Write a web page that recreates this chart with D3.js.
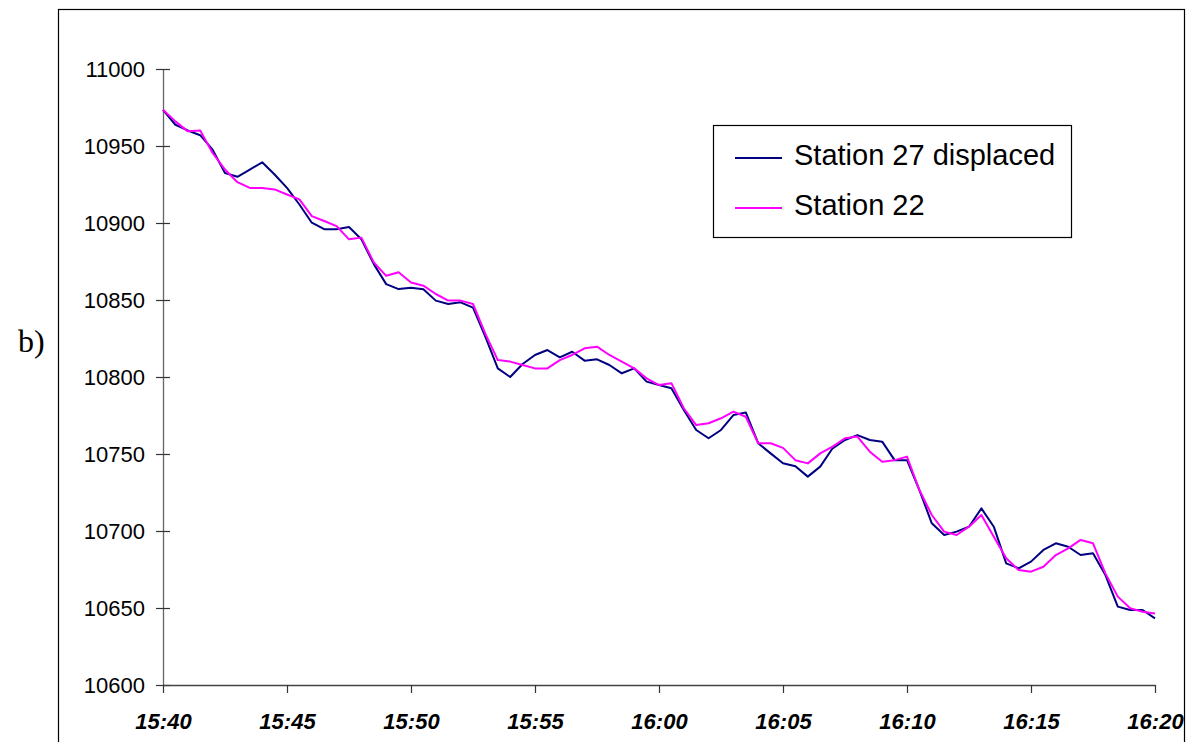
<!DOCTYPE html>
<html>
<head>
<meta charset="utf-8">
<script src="https://cdn.jsdelivr.net/npm/d3@7"></script>
<style>
  html, body { margin: 0; padding: 0; background: #fff; }
  svg { display: block; }
</style>
</head>
<body>
<svg id="chart" width="1195" height="742"></svg>
<script>
// minutes after 15:40, step 0.5
const minutes = d3.range(0, 40.001, 0.5);
const xTickMinutes = [0, 5, 10, 15, 20, 25, 30, 35, 40];
const xTickLabels = ["15:40", "15:45", "15:50", "15:55", "16:00", "16:05", "16:10", "16:15", "16:20"];
const yTicks = [10600, 10650, 10700, 10750, 10800, 10850, 10900, 10950, 11000];
const seriesNames = ["Station 27 displaced", "Station 22"];

const station27 = [
  10973.5, 10963.8, 10960.1, 10957, 10947.6, 10932.5, 10930, 10934.7, 10939.4, 10931.5,
  10922.8, 10912, 10900.2, 10896, 10896, 10897.4, 10889.4, 10873.3, 10860.3, 10857.1,
  10858, 10857, 10849.6, 10847.4, 10848.5, 10845, 10826, 10805.6, 10800, 10808.4,
  10814.3, 10817.5, 10812.8, 10816.4, 10810.6, 10811.5, 10807.8, 10802.4, 10805.6, 10797,
  10794.8, 10792.7, 10778.6, 10765.6, 10760.2, 10765.6, 10775.3, 10777, 10757, 10750.4,
  10744, 10742, 10735.3, 10741.8, 10753.7, 10759.1, 10762.3, 10759.1, 10758, 10746,
  10746, 10726.6, 10705, 10697.4, 10699.6, 10702.8, 10714.7, 10702.8, 10679, 10675.8,
  10680.1, 10687.7, 10692, 10689.8, 10684.4, 10685.5, 10671.4, 10650.9, 10648.7, 10648.7,
  10643.3
];
const station22 = [
  10973.5, 10966, 10959.5, 10960, 10945.5, 10934.7, 10926.5, 10922.8, 10922.8, 10921.8,
  10918.5, 10915.3, 10904.5, 10901.3, 10898, 10889.4, 10890.5, 10874.4, 10865.7, 10868,
  10861.4, 10859.3, 10853.9, 10849.6, 10849.6, 10847.4, 10828, 10811, 10810, 10807.8,
  10805.6, 10805.6, 10811, 10814.3, 10818.6, 10819.7, 10814.3, 10810, 10805.6, 10799.1,
  10794.8, 10796, 10779.7, 10768.8, 10770, 10773.2, 10777.5, 10774.2, 10757, 10757,
  10754, 10746, 10743.9, 10750.4, 10754.8, 10760.2, 10761.3, 10751.5, 10745, 10746,
  10748.3, 10726.6, 10710.4, 10699.6, 10697.4, 10702.8, 10710.4, 10696.3, 10682.3, 10674.7,
  10673.6, 10676.8, 10684.4, 10688.7, 10694.2, 10692, 10672.5, 10657.4, 10649.8, 10647.6,
  10646.5
];
const seriesColors = ["#000080", "#ff00ff"];

const svg = d3.select("#chart");

// outer frame
svg.append("rect")
  .attr("x", 58.5).attr("y", 9.5)
  .attr("width", 1126).attr("height", 760)
  .attr("fill", "none").attr("stroke", "#000").attr("stroke-width", 1.2);

// panel label
svg.append("text")
  .attr("x", 18).attr("y", 352)
  .attr("font-family", "'Liberation Serif', 'Times New Roman', serif")
  .attr("font-size", 32)
  .attr("fill", "#000")
  .text("b)");

const x = d3.scaleLinear().domain([0, 40]).range([163, 1155]);
const y = d3.scaleLinear().domain([10600, 11000]).range([685, 69]);

// y axis
const yAxis = d3.axisLeft(y)
  .tickValues(yTicks)
  .tickFormat(d3.format("d"))
  .tickSizeInner(7).tickSizeOuter(0).tickPadding(11);
const gy = svg.append("g").attr("transform", "translate(163,0)").call(yAxis);
gy.select(".domain").attr("stroke", "#666").attr("stroke-width", 1.3);
gy.selectAll(".tick line").attr("x1", -7).attr("x2", 7).attr("stroke", "#333").attr("stroke-width", 1.2);
gy.selectAll(".tick text")
  .attr("font-family", "'Liberation Sans', Arial, sans-serif")
  .attr("font-size", 22).attr("fill", "#000").attr("dy", "0.32em");

// x axis
const xAxis = d3.axisBottom(x)
  .tickValues(xTickMinutes)
  .tickFormat((d, i) => xTickLabels[i])
  .tickSizeInner(8).tickSizeOuter(0).tickPadding(20);
const gx = svg.append("g").attr("transform", "translate(0,685)").call(xAxis);
gx.select(".domain").attr("stroke", "#444").attr("stroke-width", 1.3);
gx.selectAll(".tick line").attr("stroke", "#333").attr("stroke-width", 1.2);
gx.selectAll(".tick text")
  .attr("font-family", "'Liberation Sans', Arial, sans-serif")
  .attr("font-size", 22).attr("font-weight", "bold").attr("font-style", "italic")
  .attr("fill", "#000");

// lines
const line = d3.line().x((d, i) => x(minutes[i])).y(d => y(d));
[station27, station22].forEach((s, k) => {
  svg.append("path")
    .datum(s)
    .attr("d", line)
    .attr("fill", "none")
    .attr("stroke", seriesColors[k])
    .attr("stroke-width", 2)
    .attr("stroke-linejoin", "round");
});
// draw navy on top where overlapping in reference? keep magenta above like Excel (later series)

// legend
const lg = svg.append("g");
lg.append("rect")
  .attr("x", 713.5).attr("y", 125.5).attr("width", 358).attr("height", 112)
  .attr("fill", "#fff").attr("stroke", "#000").attr("stroke-width", 1.2);
seriesNames.forEach((name, i) => {
  const yy = 158 + i * 50;
  lg.append("line")
    .attr("x1", 735).attr("x2", 782).attr("y1", yy).attr("y2", yy)
    .attr("stroke", seriesColors[i]).attr("stroke-width", 2);
  lg.append("text")
    .attr("x", 794).attr("y", 165 + i * 50)
    .attr("font-family", "'Liberation Sans', Arial, sans-serif")
    .attr("font-size", 29).attr("fill", "#000")
    .text(name);
});
</script>
</body>
</html>
